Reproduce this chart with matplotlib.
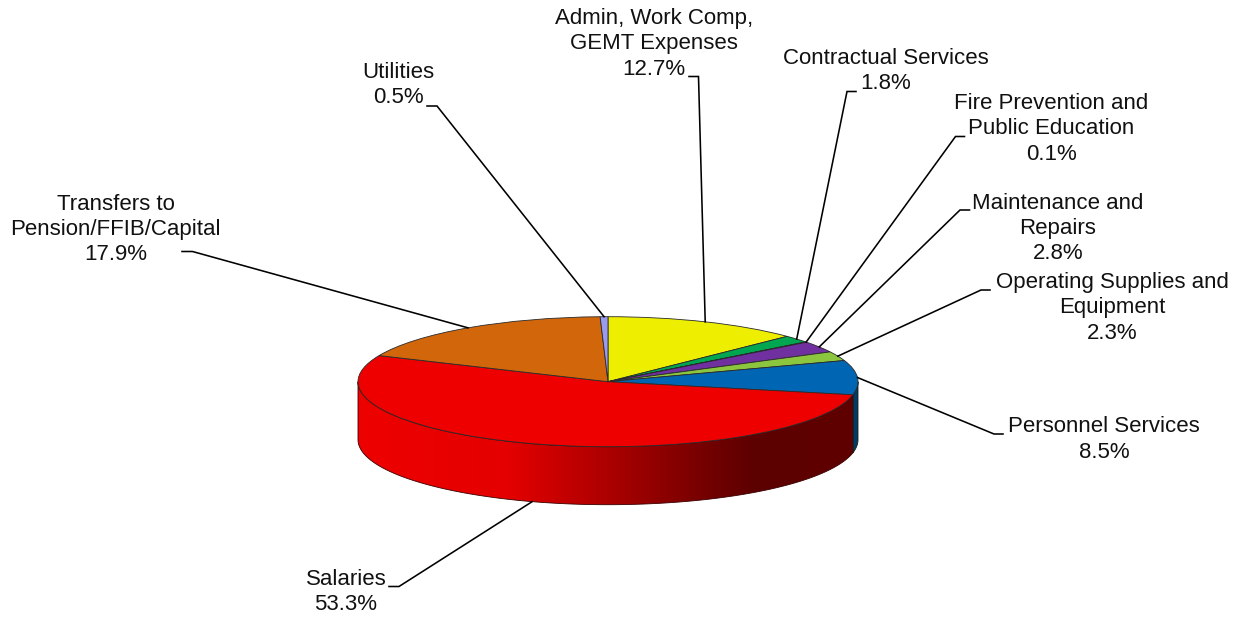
#!/usr/bin/env python3

import numpy as np
import matplotlib
matplotlib.use("Agg")
import matplotlib.pyplot as plt
from matplotlib.colors import LinearSegmentedColormap
from matplotlib.patches import PathPatch
from matplotlib.path import Path

# clockwise from 12 o'clock
labels = ["Admin, Work Comp,\nGEMT Expenses", "Contractual Services",
          "Fire Prevention and\nPublic Education", "Maintenance and\nRepairs",
          "Operating Supplies and\nEquipment", "Personnel Services",
          "Salaries", "Transfers to\nPension/FFIB/Capital", "Utilities"]
values = [12.7, 1.8, 0.1, 2.8, 2.3, 8.5, 53.3, 17.9, 0.5]
colors = ["#EEEE00", "#00A650", "#1F3864", "#7030A0", "#8CC63F", "#0066B3",
          "#EE0000", "#D2660A", "#9A9AEE"]

# label layout in image pixels: text centre, then the elbow of the leader line
label_xy = [(654, 44), (885.5, 71), (1051.5, 129), (1058, 228.5), (1112, 308),
            (1104, 439.5), (346, 592), (115.5, 229.5), (398, 85)]
elbow_a = [(689, 76.5), (856, 91.5), (964.5, 136.5), (969.5, 210), (990, 290),
           (1003, 434), (389, 586.5), (182, 251.5), (427, 106)]
elbow_b = [(698.5, 76.5), (847, 91.5), (955.5, 136.5), (960, 210), (981, 290),
           (994, 434), (399, 586.5), (192.5, 251.5), (437, 106)]

W, H = 1241, 618
cx, cy, rx, ry = 608, 381.7, 250, 65
depth = 58 / ry


def px(x, y):
    return (x - cx) / rx, (cy - y) / ry


def wall_path(a, b):
    t = np.radians(np.linspace(a, b, 120))
    xs = np.sin(t)
    ys = np.cos(t)
    pts = np.r_[np.c_[xs, ys], np.c_[xs[::-1], ys[::-1] - depth]]
    return Path(np.vstack([pts, pts[0]]), closed=True)


plt.rcParams["font.family"] = ["Liberation Sans", "DejaVu Sans"]
fig = plt.figure(figsize=(W / 100, H / 100), dpi=100)
ax = fig.add_axes([0, 0, 1, 1])

edges = np.r_[0, np.cumsum(values)] / sum(values) * 360
mids = (edges[:-1] + edges[1:]) / 2

ax.pie(values, colors=colors, startangle=90, counterclock=False, radius=1,
       wedgeprops=dict(edgecolor="#2a2a2a", linewidth=0.6, zorder=3))
ax.set_aspect("auto")
ax.set_xlim(-cx / rx, (W - cx) / rx)
ax.set_ylim((cy - H) / ry, cy / ry)
ax.axis("off")

# side of the disc: only personnel and salaries face the viewer
blue_wall = PathPatch(wall_path(90, edges[6]), facecolor="#003C64",
                      edgecolor="#1a1a1a", linewidth=0.6, zorder=1)
ax.add_patch(blue_wall)

red_path = wall_path(edges[6], 270)
shade = LinearSegmentedColormap.from_list("shade", [
    (0.0, "#EE0000"), (0.30, "#E40000"), (0.50, "#AC0000"),
    (0.72, "#6E0000"), (0.80, "#5C0000"), (1.0, "#600000")])
img = ax.imshow(np.linspace(0, 1, 256)[None, :], cmap=shade, aspect="auto",
                extent=(-1, 1, -2, 1), zorder=2)
img.set_clip_path(PathPatch(red_path, transform=ax.transData))
ax.add_patch(PathPatch(red_path, facecolor="none", edgecolor="#3a0000",
                       linewidth=0.6, zorder=2.5))
ax.set_xlim(-cx / rx, (W - cx) / rx)
ax.set_ylim((cy - H) / ry, cy / ry)

for i, name in enumerate(labels):
    pct = f"{values[i]:.1f}%"
    x, y = px(*label_xy[i])
    ax.text(x, y, name + "\n" + pct, ha="center", va="center", fontsize=16,
            color="#111111", linespacing=1.28, zorder=5)

    t = np.radians(mids[i])
    end_x = np.sin(t)
    end_y = np.cos(t)
    # front slices get their leader from the bottom of the wall
    if 180 < mids[i] < 270:
        end_y -= depth
    ax_, ay = px(*elbow_a[i])
    bx, by = px(*elbow_b[i])
    ax.plot([ax_, bx, end_x], [ay, by, end_y], color="black", linewidth=1.15,
            solid_joinstyle="miter", zorder=4)

fig.savefig("out.png", dpi=100)
